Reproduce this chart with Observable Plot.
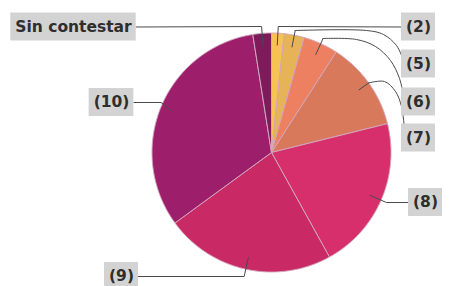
<!DOCTYPE html>
<html><head><meta charset="utf-8">
<script src="https://cdn.jsdelivr.net/npm/d3@7"></script>
<script src="https://cdn.jsdelivr.net/npm/@observablehq/plot@0.6"></script>
<style>html,body{margin:0;padding:0;background:#fff}</style>
</head><body><div id="chart"></div>
<script>
// ---- data (clockwise from 12 o'clock) ----
const categories = ["(2)", "(5)", "(6)", "(7)", "(8)", "(9)", "(10)", "Sin contestar"];
const values = [1.7, 2.7, 4.7, 12.0, 20.8, 23.0, 32.5, 2.5];
const colors = ["#f6c352", "#e6b357", "#ee8062", "#d8795b", "#d62f6b", "#c92a66", "#9d1f6b", "#7d1b5b"];

// ---- layout (pixels) ----
const W = 451, H = 286, CX = 271, CY = 152, R = 119.5;
const FONT = "bold 15.5px 'DejaVu Sans'";
const layout = {
  "Sin contestar": {lx: 73, ly: 26.5, side: "left", row: 26},
  "(2)": {lx: 418, ly: 26.5, side: "right", row: 26},
  "(5)": {lx: 418, ly: 63.5, side: "right", row: 30, start: [403, 60], via: [[396, 45], [383, 34], [366, 30]]},
  "(6)": {lx: 418, ly: 101.5, side: "right", row: 38, start: [403, 95], via: [[399, 78], [390, 60], [375, 46], [356, 39]]},
  "(7)": {lx: 418, ly: 137.5, side: "right", r: 1.0, start: [404, 129], via: [[401, 106], [395, 91], [384, 81]]},
  "(8)": {lx: 425, ly: 202, side: "right", row: 202},
  "(9)": {lx: 121, ly: 276, side: "left", row: 276},
  "(10)": {lx: 111, ly: 102, side: "left", r: 1.0, row: 102}
};

const U = px => (px - CX) / R;      // pixel -> unit x
const V = py => (CY - py) / R;      // pixel -> unit y

const pie = d3.pie().sort(null).startAngle(0).endAngle(2 * Math.PI)(values);

// slice polygons
const slicePts = [];
pie.forEach((a, i) => {
  const key = categories[i];
  slicePts.push({key, color: colors[i], x: 0, y: 0});
  const n = Math.max(2, Math.ceil((a.endAngle - a.startAngle) / (Math.PI / 360)));
  for (let k = 0; k <= n; k++) {
    const t = a.startAngle + (a.endAngle - a.startAngle) * k / n;
    slicePts.push({key, color: colors[i], x: Math.sin(t), y: Math.cos(t)});
  }
  slicePts.push({key, color: colors[i], x: 0, y: 0});
});

// text measurement
const ctx = document.createElement("canvas").getContext("2d");
ctx.font = FONT;

const labels = [], curved = [], straight = [];
pie.forEach((a, i) => {
  const key = categories[i];
  const L = layout[key];
  const mid = (a.startAngle + a.endAngle) / 2;
  const dx = Math.sin(mid), dy = -Math.cos(mid); // pixel direction
  const inner = [CX + dx * R * 0.9, CY + dy * R * 0.9];
  let elbow;
  if (L.r != null && L.row != null) elbow = [CX + dx * R * L.r, L.row];
  else if (L.r != null) elbow = [CX + dx * R * L.r, CY + dy * R * L.r];
  else { const t = (L.row - CY) / dy; elbow = [CX + dx * t, L.row]; }
  const w = ctx.measureText(key).width + 9, h = 28;
  labels.push({key, x: U(L.lx), y: V(L.ly), x1: U(L.lx - w / 2), x2: U(L.lx + w / 2), y1: V(L.ly - h / 2), y2: V(L.ly + h / 2)});
  const edge = L.side === "right" ? L.lx - w / 2 : L.lx + w / 2;
  if (L.via) {
    const pts = [L.start, ...L.via, elbow];
    pts.forEach(p => curved.push({key, x: U(p[0]), y: V(p[1])}));
    [elbow, inner].forEach(p => straight.push({key, x: U(p[0]), y: V(p[1])}));
  } else {
    [[edge, L.ly], elbow, inner].forEach(p => straight.push({key, x: U(p[0]), y: V(p[1])}));
  }
});

const chart = Plot.plot({
  width: W, height: H, margin: 0,
  x: {domain: [U(0), U(W)], axis: null},
  y: {domain: [V(H), V(0)], axis: null},
  color: {type: "identity"},
  style: {background: "#fff", overflow: "visible"},
  marks: [
    Plot.line(slicePts, {x: "x", y: "y", z: "key", fill: "color", stroke: "#d3a6bb", strokeWidth: 1, curve: "linear"}),
    Plot.line(straight, {x: "x", y: "y", z: "key", stroke: "#4a4a4a", strokeWidth: 1, curve: "linear"}),
    Plot.line(curved, {x: "x", y: "y", z: "key", stroke: "#4a4a4a", strokeWidth: 1, curve: "catmull-rom"}),
    Plot.rect(labels, {x1: "x1", x2: "x2", y1: "y1", y2: "y2", fill: "#d3d3d3"}),
    Plot.text(labels, {x: "x", y: "y", text: "key", fontSize: 15.5, fontWeight: "bold", fontFamily: "DejaVu Sans", fill: "#2e2e2e"})
  ]
});
document.getElementById("chart").appendChild(chart);
</script>
</body></html>
